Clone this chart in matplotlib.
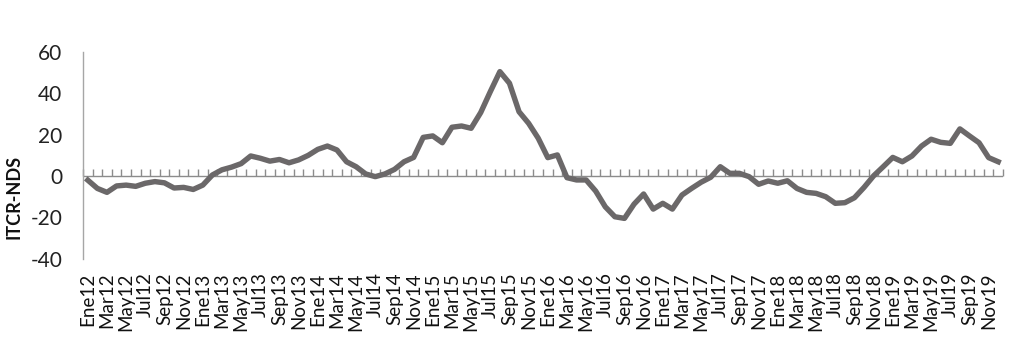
import matplotlib
matplotlib.use("Agg")
import matplotlib.pyplot as plt
import numpy as np

months = ["Ene", "Feb", "Mar", "Abr", "May", "Jun", "Jul", "Ago", "Sep", "Oct", "Nov", "Dic"]
years = ["12", "13", "14", "15", "16", "17", "18", "19"]
categories = [m + y for y in years for m in months]

itcr_nds = [
    -2, -6, -7.9, -4.8, -4.4, -5, -3.5, -2.7, -3.3, -5.8, -5.5, -6.5,
    -4.4, 0.5, 3, 4.3, 6, 9.7, 8.6, 7.2, 8, 6.4, 7.8, 10,
    12.9, 14.5, 12.6, 6.9, 4.5, 1, -0.3, 1, 3.2, 6.9, 9, 18.7,
    19.4, 16.1, 23.6, 24.2, 23.1, 30.7, 40.8, 50.5, 44.9, 31.1, 25.5, 18.3,
    8.9, 10.2, -0.8, -1.9, -1.9, -7.3, -14.9, -19.7, -20.5, -13.6, -8.7, -16,
    -13.2, -16, -9.2, -6, -3, -0.6, 4.5, 1.3, 1.3, -0.3, -4, -2.4,
    -3.5, -2.3, -6, -7.9, -8.4, -10, -13.2, -12.9, -10.5, -5.5, 0.1, 4.5,
    9, 6.9, 9.7, 14.5, 17.8, 16.3, 15.8, 22.8, 19.4, 16.1, 8.9, 6.9,
]

y_ticks = [-40, -20, 0, 20, 40, 60]
y_label = "ITCR-NDS"

fig = plt.figure(figsize=(10.24, 3.57), dpi=100)
ax = fig.add_axes([83/1024, 1 - 258.7/357, 920/1024, 206.7/357])

x = np.arange(len(categories))
ax.plot(x, itcr_nds, color="#6b6869", lw=3.9, solid_joinstyle="round", zorder=3)

ax.set_xlim(-0.5, len(categories) - 0.5)
ax.set_ylim(y_ticks[0], y_ticks[-1])
ax.set_yticks(y_ticks)
ax.set_yticklabels([str(v) for v in y_ticks], fontsize=15, family="Lato", color="#222222")
ax.tick_params(axis="y", length=0, pad=15)

ax.set_xticks(x[::2])
ax.set_xticklabels(categories[::2], rotation=90, fontsize=13.5, family="Lato", color="#111111")
ax.tick_params(axis="x", length=0, pad=10)

for s in ["top", "right", "bottom"]:
    ax.spines[s].set_visible(False)
ax.spines["left"].set_color("#a6a6a6")
ax.spines["left"].set_linewidth(1.0)

# zero category axis with month tick marks
ax.axhline(0, color="#8c8c8c", lw=1.0, zorder=2)
frac0 = (0 - y_ticks[0]) / (y_ticks[-1] - y_ticks[0])
sec = ax.secondary_xaxis(frac0)
sec.set_xticks(np.arange(len(categories) + 1) - 0.5)
sec.set_xticklabels([])
sec.tick_params(axis="x", direction="in", length=5, width=1.0, color="#8c8c8c")
sec.spines["bottom"].set_visible(False)
sec.spines["top"].set_visible(False)

ax.set_ylabel(y_label, fontsize=13, fontweight="bold", family="Lato", color="#111111")
ax.yaxis.set_label_coords(-0.066, 0.30)

fig.savefig("out.png", dpi=100, facecolor="white")
